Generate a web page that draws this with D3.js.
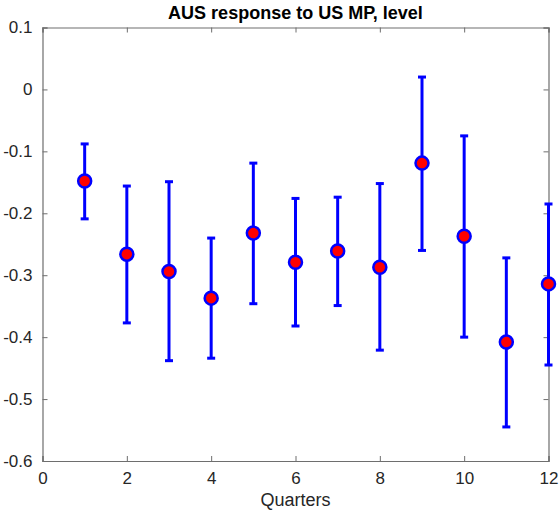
<!DOCTYPE html>
<head>
    <title>AUS response to US MP</title>
    <script src="https://d3js.org/d3.v7.min.js"></script>
    <style>
        body { margin: 0; background: #fff; }
        .tick text { font-family: "Liberation Sans", Arial, sans-serif; font-size: 17px; fill: #262626; }
    </style>
</head>
<body>
    <svg id="chart" width="560" height="511"></svg>
    <script>
        // quarters and estimated response with its bands
        var quarters = [1, 2, 3, 4, 5, 6, 7, 8, 9, 10, 11, 12];
        var response = [-0.148, -0.266, -0.294, -0.337, -0.232, -0.279, -0.261, -0.287, -0.119, -0.237, -0.408, -0.314];
        var upper = [-0.088, -0.156, -0.149, -0.240, -0.119, -0.176, -0.174, -0.152, 0.020, -0.075, -0.272, -0.185];
        var lower = [-0.209, -0.377, -0.438, -0.434, -0.346, -0.382, -0.349, -0.421, -0.260, -0.400, -0.545, -0.445];
        var xTicks = [0, 2, 4, 6, 8, 10, 12];
        var yTicks = [0.1, 0, -0.1, -0.2, -0.3, -0.4, -0.5, -0.6];

        var svg = d3.select("#chart");
        // plot box edges (px)
        var padL = 42.5, padR = 548.5, padT = 27.5, padB = 461;

        var x = d3.scaleLinear().domain([0, 12]).range([padL, padR]);
        var y = d3.scaleLinear().domain([-0.6, 0.1]).range([padB, padT]);

        var fmt = function (d) { return d === 0 ? "0" : String(Math.round(d * 10) / 10); };

        // box axes, ticks inward like matlab
        var axColor = "#6e6e6e";
        var gb = svg.append("g").attr("transform", "translate(0," + padB + ")")
            .call(d3.axisBottom(x).tickValues(xTicks).tickSize(-5).tickPadding(11).tickFormat(fmt));
        var gl = svg.append("g").attr("transform", "translate(" + padL + ",0)")
            .call(d3.axisLeft(y).tickValues(yTicks).tickSize(-5).tickPadding(10).tickFormat(fmt));
        var gt = svg.append("g").attr("transform", "translate(0," + padT + ")")
            .call(d3.axisTop(x).tickValues(xTicks).tickSize(-5).tickFormat(""));
        var gr = svg.append("g").attr("transform", "translate(" + padR + ",0)")
            .call(d3.axisRight(y).tickValues(yTicks).tickSize(-5).tickFormat(""));
        [gb, gl, gt, gr].forEach(function (g) {
            g.selectAll("path").attr("stroke", axColor).attr("stroke-width", 1.2);
            g.selectAll("line").attr("stroke", axColor);
        });

        var data = quarters.map(function (q, i) {
            return { q: q, v: response[i], hi: upper[i], lo: lower[i] };
        });

        var plot = svg.append("g");
        var bars = plot.selectAll(".err").data(data).enter().append("g").attr("class", "err");
        bars.append("line")
            .attr("x1", d => x(d.q)).attr("x2", d => x(d.q))
            .attr("y1", d => y(d.hi)).attr("y2", d => y(d.lo))
            .attr("stroke", "#0000ff").attr("stroke-width", 3);
        bars.append("line")
            .attr("x1", d => x(d.q) - 4).attr("x2", d => x(d.q) + 4)
            .attr("y1", d => y(d.hi)).attr("y2", d => y(d.hi))
            .attr("stroke", "#0000ff").attr("stroke-width", 3);
        bars.append("line")
            .attr("x1", d => x(d.q) - 4).attr("x2", d => x(d.q) + 4)
            .attr("y1", d => y(d.lo)).attr("y2", d => y(d.lo))
            .attr("stroke", "#0000ff").attr("stroke-width", 3);
        bars.append("circle")
            .attr("cx", d => x(d.q)).attr("cy", d => y(d.v)).attr("r", 6.5)
            .attr("fill", "#ff0000").attr("stroke", "#0000ff").attr("stroke-width", 2.5);

        svg.append("text")
            .attr("x", (padL + padR) / 2).attr("y", 19)
            .attr("text-anchor", "middle")
            .style("font-family", "Liberation Sans, Arial, sans-serif")
            .style("font-size", "18px").style("font-weight", "bold").style("fill", "#000")
            .text("AUS response to US MP, level");

        svg.append("text")
            .attr("x", (padL + padR) / 2).attr("y", 506)
            .attr("text-anchor", "middle")
            .style("font-family", "Liberation Sans, Arial, sans-serif")
            .style("font-size", "18px").style("fill", "#262626")
            .text("Quarters");
    </script>
</body>
